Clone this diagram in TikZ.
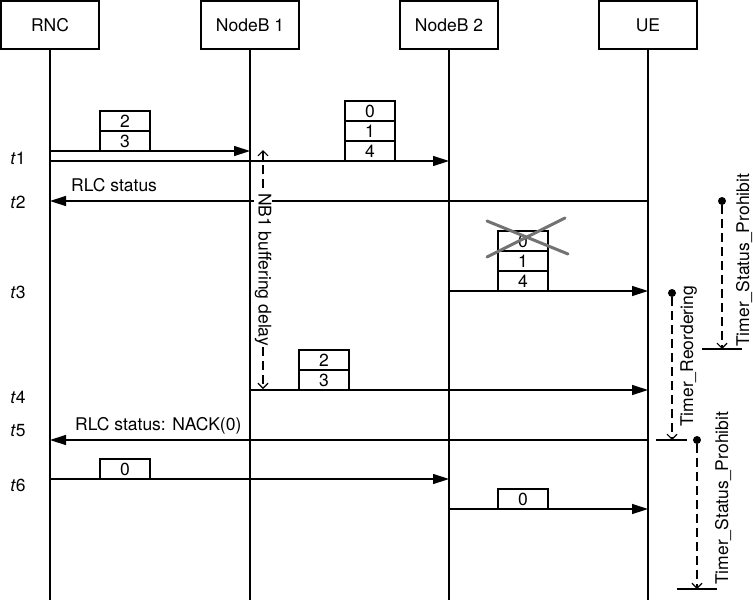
\documentclass[tikz,border=0pt]{standalone}
\usepackage{fontspec}
\setmainfont{TeX Gyre Heros}
\usetikzlibrary{arrows.meta}

\begin{document}
\begin{tikzpicture}[x=1pt, y=-1pt,
	font=\fontsize{17.5}{21}\selectfont,
	entity/.style={draw, line width=1.4pt, minimum width=98pt, minimum height=48pt, inner sep=0pt},
	life/.style={line width=1.4pt},
	msg/.style={-{Triangle[length=16pt, width=10pt]}, line width=1.4pt},
	pkt/.style={draw, line width=1.4pt, minimum width=50pt, minimum height=20pt, inner sep=0pt},
	span/.style={{Straight Barb[length=5pt, width=10pt]}-{Straight Barb[length=5pt, width=10pt]}, line width=1.1pt, dash pattern=on 9pt off 5pt},
	timer/.style={-{Straight Barb[length=5pt, width=10pt]}, line width=1.1pt, dash pattern=on 9pt off 5pt},
	dot/.style={circle, fill, inner sep=0pt, minimum size=8pt},
	tick/.style={line width=1.4pt},
	lbl/.style={inner sep=0pt, anchor=base west},
	vlbl/.style={inner sep=0pt, anchor=base west, rotate=90},
	cross/.style={line width=3pt, black!55, line cap=round}
	]
	\useasboundingbox (0,0) rectangle (753,600);
	% entities and lifelines
	\node[entity] (rnc) at (50,25) {RNC};
	\node[entity] (nb1) at (250,25) {NodeB 1};
	\node[entity] (nb2) at (449,25) {NodeB 2};
	\node[entity] (ue) at (648,25) {UE};
	\foreach \e in {rnc,nb1,nb2,ue}
		\draw[life] (\e.south) -- (\e.south |- 0,600);

	% time marks
	\node (t1) at (18,158) {\textit{t}1};
	\node (t2) at (18,202) {\textit{t}2};
	\node (t3) at (18,292) {\textit{t}3};
	\node (t4) at (18,397) {\textit{t}4};
	\node (t5) at (18,431) {\textit{t}5};
	\node (t6) at (18,485) {\textit{t}6};

	% messages
	\draw[msg] (rnc |- 0,151) -- (nb1 |- 0,151);
	\draw[msg] (rnc |- 0,161) -- (nb2 |- 0,161);
	\draw[msg] (ue |- 0,201) -- (rnc |- 0,201);
	\draw[msg] (nb2 |- 0,291) -- (ue |- 0,291);
	\draw[msg] (nb1 |- 0,390) -- (ue |- 0,390);
	\draw[msg] (ue |- 0,440) -- (rnc |- 0,440);
	\draw[msg] (rnc |- 0,479) -- (nb2 |- 0,479);
	\draw[msg] (nb2 |- 0,509) -- (ue |- 0,509);
	\node[lbl] (st1) at (71,191) {RLC status};
	\node[lbl] (st2) at (75,430) {RLC status: NACK(0)};

	% packets
	\node[pkt] (pa2) at (125,121) {2};
	\node[pkt] (pa3) at (125,141) {3};
	\node[pkt] (pb0) at (370,111) {0};
	\node[pkt] (pb1) at (370,131) {1};
	\node[pkt] (pb4) at (370,151) {4};
	\node[pkt] (pc0) at (523,241) {0};
	\node[pkt] (pc1) at (523,261) {1};
	\node[pkt] (pc4) at (523,281) {4};
	\node[pkt] (pd2) at (324,360) {2};
	\node[pkt] (pd3) at (324,380) {3};
	\node[pkt] (pe0) at (125,469) {0};
	\node[pkt] (pf0) at (523,499) {0};

	% lost packet
	\draw[cross] (487,257) -- (565,218);
	\draw[cross] (487,221) -- (568,254);

	% NodeB 1 buffering
	\coordinate (buftop) at (263,150);
	\coordinate (bufbot) at (263,389);
	\draw[span] (buftop) -- node[fill=white, rotate=-90, inner sep=1pt] {NB1 buffering delay} (bufbot);

	% timers
	\node[dot] (tsp1) at (722,201) {};
	\coordinate (tsp1end) at (722,349);
	\draw[timer] (tsp1) -- (tsp1end);
	\draw[tick] ([xshift=-20pt]tsp1end) -- ([xshift=20pt]tsp1end);
	\node[vlbl] at (749,347) {Timer\_Status\_Prohibit};

	\node[dot] (tr) at (672,293) {};
	\coordinate (trend) at (672,440);
	\draw[timer] (tr) -- (trend);
	\draw[tick] ([xshift=-16pt]trend) -- ([xshift=15pt]trend);
	\node[vlbl] at (693,427) {Timer\_Reordering};

	\node[dot] (tsp2) at (697,440) {};
	\coordinate (tsp2end) at (697,589);
	\draw[timer] (tsp2) -- (tsp2end);
	\draw[tick] ([xshift=-20pt]tsp2end) -- ([xshift=20pt]tsp2end);
	\node[vlbl] at (728,585) {Timer\_Status\_Prohibit};
\end{tikzpicture}
\end{document}
